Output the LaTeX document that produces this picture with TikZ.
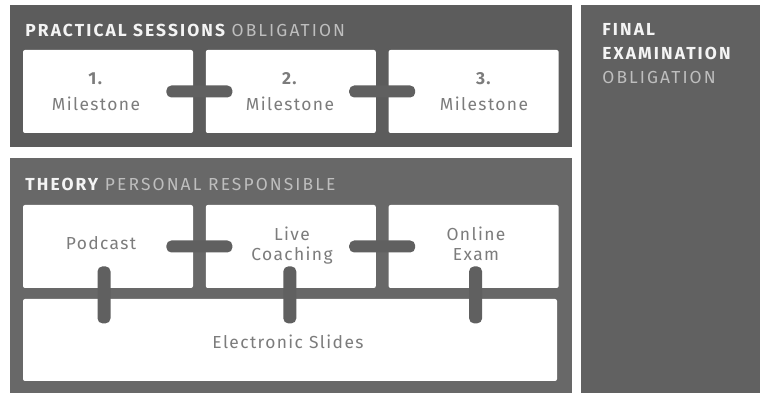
\documentclass[tikz,border=0pt]{standalone}
\usepackage{fontspec}
\setmainfont{Fira Sans}[LetterSpace=8]
\newfontfamily\headfont{Fira Sans}[LetterSpace=12]
\usetikzlibrary{positioning,calc}

\definecolor{panelA}{HTML}{5C5C5C}
\definecolor{panelB}{HTML}{686868}
\definecolor{panelC}{HTML}{616161}
\definecolor{barcol}{HTML}{606060}
\definecolor{lblgray}{HTML}{7C7C7C}
\definecolor{subgray}{HTML}{BEBEBE}
\definecolor{headwhite}{HTML}{F4F4F4}

\begin{document}
\begin{tikzpicture}[
    x=0.5pt, y=-0.5pt,
    font=\fontsize{8.7}{10}\selectfont,
    node distance=6pt and 6pt,
    every node/.style={align=center},
    box/.style={fill=white, rounded corners=1pt, minimum width=85pt, minimum height=41.5pt, inner sep=0pt},
    wide/.style={box, minimum width=267pt, minimum height=41pt},
    lbl/.style={text=lblgray, inner sep=0pt},
    head/.style={anchor=base west, inner sep=0pt, font=\headfont\fontsize{8.7}{12}\selectfont, text=subgray},
    hbar/.style={fill=barcol, rounded corners=2.5pt, minimum width=33pt, minimum height=6pt, inner sep=0pt},
    vbar/.style={fill=barcol, rounded corners=2.5pt, minimum width=6.5pt, minimum height=28.5pt, inner sep=0pt},
]
\useasboundingbox (0,0) rectangle (760,394);

% --- Panels ---
\fill[panelA] (10,5) rectangle (572,147);
\fill[panelB] (10,158) rectangle (572,393);
\fill[panelC] (581,5) rectangle (760,393);

% --- Panel headings ---
\node[head] (prachead) at (25,37) {{\bfseries\color{headwhite}PRACTICAL SESSIONS} OBLIGATION};
\node[head] (theohead) at (25,191) {{\bfseries\color{headwhite}THEORY} PERSONAL RESPONSIBLE};
\node[head, anchor=north west, align=left] (finhead) at (602,23)
    {{\bfseries\color{headwhite}FINAL}\\{\bfseries\color{headwhite}EXAMINATION}\\OBLIGATION};

% --- Milestones row ---
\node[box] (ms1) at (108,91.5) {};
\node[box] (ms2) [right=of ms1] {};
\node[box] (ms3) [right=of ms2] {};

% --- Theory row + slides underneath ---
\node[box]  (pod)    at (108,246.5) {};
\node[box]  (coach)  [right=of pod] {};
\node[box]  (exam)   [right=of coach] {};
\node[wide] (slides) at (290,340) {};

% --- Connector bars ---
\node[hbar] (j12) at ($(ms1.east)!.5!(ms2.west)$) {};
\node[hbar] (j23) at ($(ms2.east)!.5!(ms3.west)$) {};
\node[hbar] (k12) at ($(pod.east)!.5!(coach.west)$) {};
\node[hbar] (k23) at ($(coach.east)!.5!(exam.west)$) {};
\node[vbar] (s1) at ($(pod.south)+(-4,6.5)$) {};
\node[vbar] (s2) at ($(coach.south)+(-1,6.5)$) {};
\node[vbar] (s3) at ($(exam.south)+(2,6.5)$) {};

% --- Box texts ---
\node[lbl] (ms1t) at (96,92)  {\textbf{1.}\\[3pt]Milestone};
\node[lbl] (ms2t) at (290,92) {\textbf{2.}\\[3pt]Milestone};
\node[lbl] (ms3t) at (484,92) {\textbf{3.}\\[3pt]Milestone};
\node[lbl] (podt)   at (101,243) {Podcast};
\node[lbl] (coacht) at (292,246) {Live\\Coaching};
\node[lbl] (examt)  at (476,244) {Online\\Exam};
\node[lbl] (slidest) at (288,342) {Electronic Slides};

\end{tikzpicture}
\end{document}
